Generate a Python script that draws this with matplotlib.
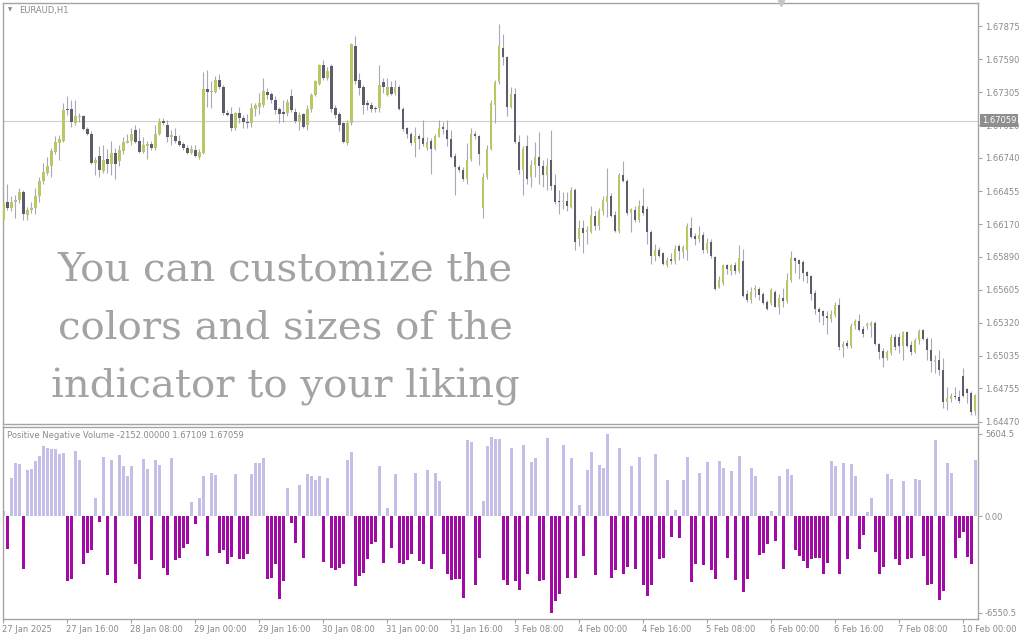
import matplotlib
matplotlib.use("Agg")
import matplotlib.pyplot as plt
import matplotlib.transforms as mtransforms
import numpy as np

W, H = 1024, 640

# ----------------------------------------------------------------------
# EURAUD H1 candles (27 Jan 2025 00:00 ... 10 Feb 2025 03:00)
# ----------------------------------------------------------------------
OPEN = [
    1.6621, 1.6636, 1.6631, 1.6636, 1.6638, 1.6645, 1.6625, 1.6629, 1.6631, 1.6641,
    1.6654, 1.6661, 1.6667, 1.6679, 1.6687, 1.6689, 1.6716, 1.6716, 1.6704, 1.6709,
    1.6710, 1.6699, 1.6695, 1.6670, 1.6676, 1.6663, 1.6673, 1.6669, 1.6678, 1.6671,
    1.6680, 1.6687, 1.6689, 1.6698, 1.6689, 1.6679, 1.6684, 1.6686, 1.6683, 1.6695,
    1.6706, 1.6702, 1.6692, 1.6693, 1.6689, 1.6686, 1.6683, 1.6678, 1.6681, 1.6675,
    1.6678, 1.6733, 1.6731, 1.6731, 1.6741, 1.6735, 1.6713, 1.6712, 1.6700, 1.6713,
    1.6708, 1.6705, 1.6704, 1.6716, 1.6718, 1.6720, 1.6731, 1.6729, 1.6724, 1.6716,
    1.6714, 1.6713, 1.6727, 1.6714, 1.6706, 1.6712, 1.6702, 1.6716, 1.6728, 1.6738,
    1.6754, 1.6743, 1.6753, 1.6717, 1.6712, 1.6704, 1.6687, 1.6704, 1.6770, 1.6741,
    1.6735, 1.6721, 1.6720, 1.6717, 1.6717, 1.6739, 1.6728, 1.6735, 1.6730, 1.6735,
    1.6716, 1.6700, 1.6695, 1.6687, 1.6693, 1.6691, 1.6683, 1.6689, 1.6682, 1.6692,
    1.6701, 1.6698, 1.6690, 1.6676, 1.6666, 1.6664, 1.6656, 1.6673, 1.6695, 1.6693,
    1.6631, 1.6658, 1.6682, 1.6720, 1.6739, 1.6769, 1.6761, 1.6718, 1.6729, 1.6688,
    1.6664, 1.6684, 1.6658, 1.6668, 1.6675, 1.6667, 1.6659, 1.6672, 1.6651, 1.6637,
    1.6636, 1.6637, 1.6632, 1.6646, 1.6604, 1.6614, 1.6610, 1.6610, 1.6624, 1.6615,
    1.6628, 1.6636, 1.6641, 1.6625, 1.6611, 1.6659, 1.6654, 1.6627, 1.6629, 1.6621,
    1.6633, 1.6630, 1.6610, 1.6590, 1.6595, 1.6592, 1.6582, 1.6587, 1.6585, 1.6598,
    1.6593, 1.6595, 1.6614, 1.6607, 1.6604, 1.6608, 1.6595, 1.6602, 1.6589, 1.6563,
    1.6566, 1.6582, 1.6577, 1.6582, 1.6577, 1.6585, 1.6557, 1.6552, 1.6560, 1.6561,
    1.6557, 1.6550, 1.6549, 1.6559, 1.6546, 1.6553, 1.6551, 1.6569, 1.6588, 1.6586,
    1.6584, 1.6576, 1.6572, 1.6558, 1.6544, 1.6542, 1.6538, 1.6535, 1.6539, 1.6547,
    1.6511, 1.6515, 1.6512, 1.6529, 1.6534, 1.6527, 1.6529, 1.6529, 1.6532, 1.6514,
    1.6508, 1.6502, 1.6506, 1.6520, 1.6520, 1.6512, 1.6524, 1.6513, 1.6507, 1.6517,
    1.6526, 1.6518, 1.6509, 1.6498, 1.6500, 1.6491, 1.6464, 1.6466, 1.6469, 1.6468,
    1.6486, 1.6475, 1.6472, 1.6456,
]
HIGH = [
    1.6644, 1.6652, 1.6641, 1.6642, 1.6648, 1.6646, 1.6632, 1.6636, 1.6648, 1.6658,
    1.6670, 1.6675, 1.6683, 1.6693, 1.6694, 1.6721, 1.6727, 1.6724, 1.6724, 1.6713,
    1.6711, 1.6701, 1.6697, 1.6675, 1.6684, 1.6685, 1.6682, 1.6689, 1.6683, 1.6685,
    1.6692, 1.6695, 1.6700, 1.6702, 1.6700, 1.6692, 1.6689, 1.6689, 1.6702, 1.6708,
    1.6708, 1.6707, 1.6698, 1.6700, 1.6694, 1.6688, 1.6685, 1.6685, 1.6685, 1.6682,
    1.6748, 1.6750, 1.6740, 1.6745, 1.6746, 1.6737, 1.6715, 1.6718, 1.6714, 1.6718,
    1.6711, 1.6712, 1.6721, 1.6721, 1.6730, 1.6743, 1.6734, 1.6731, 1.6727, 1.6718,
    1.6724, 1.6725, 1.6733, 1.6717, 1.6714, 1.6713, 1.6720, 1.6730, 1.6741, 1.6755,
    1.6758, 1.6752, 1.6755, 1.6720, 1.6714, 1.6705, 1.6707, 1.6773, 1.6779, 1.6747,
    1.6737, 1.6724, 1.6722, 1.6719, 1.6754, 1.6743, 1.6743, 1.6740, 1.6741, 1.6737,
    1.6718, 1.6701, 1.6696, 1.6701, 1.6695, 1.6707, 1.6692, 1.6691, 1.6695, 1.6707,
    1.6705, 1.6707, 1.6698, 1.6678, 1.6668, 1.6666, 1.6687, 1.6700, 1.6697, 1.6694,
    1.6661, 1.6685, 1.6724, 1.6741, 1.6789, 1.6781, 1.6762, 1.6735, 1.6734, 1.6694,
    1.6684, 1.6694, 1.6672, 1.6688, 1.6696, 1.6672, 1.6674, 1.6698, 1.6660, 1.6646,
    1.6645, 1.6645, 1.6649, 1.6648, 1.6621, 1.6621, 1.6615, 1.6633, 1.6628, 1.6631,
    1.6641, 1.6665, 1.6644, 1.6628, 1.6661, 1.6671, 1.6656, 1.6631, 1.6633, 1.6638,
    1.6648, 1.6633, 1.6612, 1.6600, 1.6597, 1.6593, 1.6589, 1.6592, 1.6599, 1.6600,
    1.6599, 1.6618, 1.6623, 1.6609, 1.6615, 1.6610, 1.6605, 1.6604, 1.6590, 1.6572,
    1.6583, 1.6583, 1.6583, 1.6584, 1.6599, 1.6596, 1.6560, 1.6563, 1.6565, 1.6563,
    1.6559, 1.6552, 1.6562, 1.6560, 1.6557, 1.6562, 1.6575, 1.6594, 1.6589, 1.6587,
    1.6586, 1.6577, 1.6573, 1.6560, 1.6546, 1.6543, 1.6542, 1.6543, 1.6550, 1.6553,
    1.6516, 1.6517, 1.6532, 1.6535, 1.6540, 1.6529, 1.6533, 1.6534, 1.6534, 1.6515,
    1.6510, 1.6509, 1.6522, 1.6522, 1.6523, 1.6525, 1.6525, 1.6516, 1.6519, 1.6527,
    1.6527, 1.6520, 1.6519, 1.6504, 1.6509, 1.6502, 1.6477, 1.6472, 1.6477, 1.6474,
    1.6493, 1.6476, 1.6473, 1.6471,
]
LOW = [
    1.6616, 1.6629, 1.6628, 1.6622, 1.6635, 1.6621, 1.6621, 1.6627, 1.6626, 1.6636,
    1.6652, 1.6659, 1.6658, 1.6677, 1.6672, 1.6688, 1.6711, 1.6701, 1.6702, 1.6705,
    1.6698, 1.6694, 1.6669, 1.6659, 1.6658, 1.6661, 1.6661, 1.6659, 1.6656, 1.6667,
    1.6677, 1.6687, 1.6685, 1.6687, 1.6678, 1.6678, 1.6673, 1.6681, 1.6681, 1.6694,
    1.6702, 1.6688, 1.6685, 1.6687, 1.6684, 1.6681, 1.6677, 1.6677, 1.6675, 1.6673,
    1.6677, 1.6718, 1.6717, 1.6730, 1.6733, 1.6711, 1.6710, 1.6697, 1.6698, 1.6704,
    1.6700, 1.6700, 1.6701, 1.6710, 1.6712, 1.6718, 1.6725, 1.6721, 1.6712, 1.6704,
    1.6705, 1.6710, 1.6714, 1.6704, 1.6698, 1.6700, 1.6698, 1.6714, 1.6727, 1.6737,
    1.6741, 1.6741, 1.6714, 1.6708, 1.6697, 1.6687, 1.6685, 1.6702, 1.6738, 1.6728,
    1.6712, 1.6715, 1.6714, 1.6714, 1.6714, 1.6730, 1.6727, 1.6728, 1.6728, 1.6715,
    1.6697, 1.6691, 1.6685, 1.6675, 1.6682, 1.6684, 1.6681, 1.6660, 1.6681, 1.6692,
    1.6695, 1.6684, 1.6674, 1.6642, 1.6662, 1.6654, 1.6652, 1.6671, 1.6690, 1.6668,
    1.6622, 1.6656, 1.6681, 1.6704, 1.6738, 1.6754, 1.6710, 1.6717, 1.6687, 1.6660,
    1.6642, 1.6652, 1.6649, 1.6658, 1.6652, 1.6649, 1.6646, 1.6646, 1.6634, 1.6626,
    1.6630, 1.6628, 1.6631, 1.6595, 1.6598, 1.6592, 1.6600, 1.6609, 1.6612, 1.6612,
    1.6625, 1.6623, 1.6623, 1.6610, 1.6609, 1.6653, 1.6625, 1.6610, 1.6619, 1.6619,
    1.6625, 1.6600, 1.6583, 1.6585, 1.6589, 1.6582, 1.6580, 1.6583, 1.6583, 1.6586,
    1.6588, 1.6586, 1.6605, 1.6599, 1.6602, 1.6592, 1.6592, 1.6588, 1.6560, 1.6562,
    1.6565, 1.6574, 1.6573, 1.6574, 1.6575, 1.6554, 1.6550, 1.6549, 1.6554, 1.6552,
    1.6548, 1.6543, 1.6547, 1.6546, 1.6540, 1.6546, 1.6549, 1.6567, 1.6575, 1.6570,
    1.6568, 1.6566, 1.6552, 1.6540, 1.6533, 1.6530, 1.6522, 1.6533, 1.6537, 1.6509,
    1.6503, 1.6510, 1.6510, 1.6527, 1.6525, 1.6520, 1.6527, 1.6520, 1.6513, 1.6501,
    1.6494, 1.6500, 1.6504, 1.6509, 1.6506, 1.6500, 1.6511, 1.6504, 1.6506, 1.6514,
    1.6517, 1.6500, 1.6490, 1.6489, 1.6487, 1.6459, 1.6457, 1.6464, 1.6466, 1.6463,
    1.6468, 1.6463, 1.6453, 1.6453,
]
CLOSE = [
    1.6635, 1.6631, 1.6636, 1.6638, 1.6645, 1.6626, 1.6629, 1.6631, 1.6641, 1.6654,
    1.6662, 1.6667, 1.6680, 1.6688, 1.6690, 1.6715, 1.6715, 1.6705, 1.6710, 1.6710,
    1.6699, 1.6695, 1.6670, 1.6672, 1.6664, 1.6672, 1.6669, 1.6678, 1.6669, 1.6681,
    1.6688, 1.6689, 1.6695, 1.6688, 1.6679, 1.6685, 1.6686, 1.6683, 1.6695, 1.6706,
    1.6704, 1.6692, 1.6694, 1.6689, 1.6685, 1.6683, 1.6678, 1.6682, 1.6676, 1.6679,
    1.6733, 1.6731, 1.6732, 1.6741, 1.6735, 1.6713, 1.6711, 1.6700, 1.6713, 1.6708,
    1.6705, 1.6704, 1.6717, 1.6720, 1.6721, 1.6732, 1.6728, 1.6724, 1.6715, 1.6712,
    1.6712, 1.6722, 1.6715, 1.6706, 1.6711, 1.6701, 1.6716, 1.6728, 1.6740, 1.6754,
    1.6743, 1.6749, 1.6716, 1.6711, 1.6702, 1.6688, 1.6704, 1.6772, 1.6740, 1.6734,
    1.6720, 1.6720, 1.6716, 1.6716, 1.6737, 1.6735, 1.6735, 1.6729, 1.6735, 1.6716,
    1.6699, 1.6695, 1.6687, 1.6693, 1.6690, 1.6686, 1.6688, 1.6682, 1.6693, 1.6700,
    1.6699, 1.6690, 1.6675, 1.6666, 1.6664, 1.6656, 1.6672, 1.6695, 1.6693, 1.6677,
    1.6658, 1.6682, 1.6721, 1.6739, 1.6770, 1.6761, 1.6718, 1.6729, 1.6688, 1.6664,
    1.6682, 1.6656, 1.6668, 1.6675, 1.6667, 1.6659, 1.6667, 1.6650, 1.6636, 1.6636,
    1.6637, 1.6633, 1.6646, 1.6602, 1.6614, 1.6609, 1.6612, 1.6625, 1.6615, 1.6628,
    1.6638, 1.6641, 1.6624, 1.6611, 1.6659, 1.6654, 1.6627, 1.6630, 1.6621, 1.6633,
    1.6627, 1.6610, 1.6590, 1.6595, 1.6590, 1.6583, 1.6586, 1.6585, 1.6596, 1.6594,
    1.6597, 1.6615, 1.6606, 1.6604, 1.6608, 1.6595, 1.6601, 1.6590, 1.6561, 1.6569,
    1.6582, 1.6578, 1.6582, 1.6577, 1.6588, 1.6555, 1.6552, 1.6559, 1.6562, 1.6556,
    1.6549, 1.6544, 1.6560, 1.6546, 1.6553, 1.6551, 1.6569, 1.6588, 1.6585, 1.6583,
    1.6575, 1.6572, 1.6557, 1.6544, 1.6541, 1.6538, 1.6536, 1.6540, 1.6547, 1.6511,
    1.6514, 1.6512, 1.6529, 1.6534, 1.6526, 1.6522, 1.6531, 1.6532, 1.6514, 1.6507,
    1.6502, 1.6507, 1.6520, 1.6511, 1.6512, 1.6524, 1.6512, 1.6507, 1.6517, 1.6525,
    1.6518, 1.6509, 1.6499, 1.6500, 1.6491, 1.6464, 1.6467, 1.6469, 1.6468, 1.6465,
    1.6469, 1.6472, 1.6455, 1.6470,
]

# Positive Negative Volume histogram
VOLUME = [
    343, -2241, 2630, 3590, 3522, -3613, 3179, 3248, 3751, 4094,
    4780, 4620, 4551, 4551, 4231, 4300, -4368, -4231, 4414, 3819,
    -3270, -2516, -2310, 1258, -412, 4002, -4025, 3819, -4528, 4162,
    3408, 2722, 3408, -3270, -4231, 3865, 3248, -2996, 3819, 3476,
    -3499, -4025, 3934, -2996, -2859, -2127, -1898, 961, -526, 1235,
    2722, -2699, 2973, 2790, -2470, -2310, -3225, -2744, 2904, -2927,
    -2882, -2584, 2904, 3590, 3590, 3934, -4231, -4185, -3225, -5603,
    -4368, 1944, -480, -1784, 2104, -2813, 2904, 2722, 2447, 2722,
    -3087, 2630, -3499, -3682, -3499, -3225, 3819, 4345, -4757, -4071,
    -3842, -2927, -1898, -1715, 3408, -3156, 572, -2127, 2859, -3156,
    -3225, -2996, -2584, 2950, -3042, -3225, 3133, -3613, 2973, 2378,
    -2584, -3957, -4300, -4231, -4231, -5557, 5191, 5077, -4643, -2859,
    1029, 4780, 5420, 5260, 5260, -4300, -4643, 4620, -4368, -4986,
    4848, -3911, 3659, 3934, -4368, -4300, 5306, -6550.5, -5740, -5283,
    4848, -4185, 3934, -4185, 800, -2699, 3133, 4345, -4025, 3476,
    3316, 5604.5, -4185, -3682, 4620, -3957, -3431, 3431, -3613, 4002,
    -4643, -5443, -4643, 4208, -2927, -2859, 2493, -1441, 435, -1487,
    2493, 4002, -4460, -3270, 2973, -3339, 3659, -3682, -4231, 3751,
    3293, -2813, 3065, -4300, 4094, -5146, -4231, 3316, 2722, -2653,
    -2516, -1898, 343, -1670, 2722, -3613, 3248, 2790, -2310, -2699,
    -3042, -3545, -2927, -2813, -2813, -3911, -3200, 3773, 3408, -3957,
    3636, -2927, 3522, 2722, -2241, -1281, 300, 1258, -2401, -3911,
    -3431, 2859, 2516, -2900, -3339, 2378, -2927, -2813, 2561, 2447,
    -2699, -4643, -4597, 5191, -5672, -5100, 3636, 2973, -2859, -1487,
    -1052, -2744, -3225, 3819,
]

PRICE_TICKS = [1.67875, 1.67590, 1.67305, 1.67020, 1.66740, 1.66455, 1.66170,
               1.65890, 1.65605, 1.65320, 1.65035, 1.64755, 1.64470]
VOL_TICKS = [5604.5, 0.0, -6550.5]
VOL_TICK_LABELS = ["5604.5", "0.00", "-6550.5"]
DATE_LABELS = ["27 Jan 2025", "27 Jan 16:00", "28 Jan 08:00", "29 Jan 00:00",
               "29 Jan 16:00", "30 Jan 08:00", "31 Jan 00:00", "31 Jan 16:00",
               "3 Feb 08:00", "4 Feb 00:00", "4 Feb 16:00", "5 Feb 08:00",
               "6 Feb 00:00", "6 Feb 16:00", "7 Feb 08:00", "10 Feb 00:00"]
DATE_STEP = 16          # one label every 16 hourly bars
LAST_PRICE = 1.67059

BULL, BEAR, WICK = "#b7c865", "#5f5c6a", "#aaa8b8"
VPOS, VNEG = "#c4bee9", "#a20aa5"
FRAME, TXT = "#a4a4a4", "#8a8a8a"


def fx(px):
    return px / W


def fy(py):
    return 1.0 - py / H


o, h, l, c = map(np.asarray, (OPEN, HIGH, LOW, CLOSE))
idx = np.arange(len(c))
vol = np.asarray(VOLUME, dtype=float)

fig = plt.figure(figsize=(W / 100, H / 100), dpi=100)
fig.patch.set_facecolor("white")

ax = fig.add_axes([fx(2.5), fy(424), fx(978) - fx(2.5), fy(2.7) - fy(424)])
axv = fig.add_axes([fx(2.5), fy(619), fx(978) - fx(2.5), fy(426.5) - fy(619)])

for a in (ax, axv):
    for s in a.spines.values():
        s.set_color(FRAME)
        s.set_linewidth(1.0)
    a.set_xlim(-0.2, 243.7)
    a.yaxis.tick_right()
    a.tick_params(axis="y", direction="out", length=3, width=0.8, color=FRAME,
                  labelsize=6, labelcolor=TXT, pad=2)

# --- price panel ---
ax.set_ylim(1.64449, 1.68077)
ax.axhline(LAST_PRICE, color="#cfcfcf", lw=0.8, zorder=1)
ax.vlines(idx, l, h, color=WICK, lw=0.8, zorder=2)
up = c >= o
body_lo = np.minimum(o, c)
body_h = np.maximum(np.abs(c - o), 0.00004)
ax.bar(idx[up], body_h[up], bottom=body_lo[up], width=0.62, color=BULL, zorder=3)
ax.bar(idx[~up], body_h[~up], bottom=body_lo[~up], width=0.62, color=BEAR, zorder=3)
ax.set_xticks([])
ax.set_yticks(PRICE_TICKS)
ax.set_yticklabels([f"{t:.5f}" for t in PRICE_TICKS])

trans = mtransforms.blended_transform_factory(ax.transAxes, ax.transData)
ax.text(1.004, LAST_PRICE, f"{LAST_PRICE:.5f}", transform=trans, fontsize=6,
        color="white", va="center", ha="left", zorder=5,
        bbox=dict(boxstyle="square,pad=0.25", fc="#8e8e8e", ec="none"))
ax.plot([0.798], [1.0], marker="v", ms=5, color="#c4c4c4", transform=ax.transAxes,
        clip_on=False, zorder=5)

fig.text(fx(19), fy(10), "EURAUD,H1", fontsize=6, color=TXT, va="center", ha="left")
fig.text(fx(10), fy(10), "\u25bc", fontsize=4, color="#8a8a8a", va="center", ha="center")

overlay = ["You can customize the", "colors and sizes of the", "indicator to your liking"]
for k, line in enumerate(overlay):
    fig.text(fx(285), fy(282 + 57.5 * k), line, fontsize=29, family="DejaVu Serif",
             color="#a3a3a3", ha="center", va="baseline")

# --- volume panel ---
axv.set_ylim(-6984, 6106)
colors = np.where(vol >= 0, VPOS, VNEG)
axv.bar(idx, vol, width=0.72, color=colors, zorder=2)
axv.set_yticks(VOL_TICKS)
axv.set_yticklabels(VOL_TICK_LABELS)
tick_pos = np.arange(len(DATE_LABELS)) * DATE_STEP
axv.set_xticks(tick_pos)
axv.set_xticklabels(DATE_LABELS, ha="left")
axv.tick_params(axis="x", direction="out", length=3, width=0.8, color=FRAME,
                labelsize=6, labelcolor=TXT, pad=1.5)
offset = mtransforms.ScaledTranslation(-1 / 100, 0, fig.dpi_scale_trans)
for lbl in axv.get_xticklabels():
    lbl.set_transform(lbl.get_transform() + offset)

fig.text(fx(7), fy(435), "Positive Negative Volume -2152.00000 1.67109 1.67059",
         fontsize=6, color=TXT, va="center", ha="left")

fig.savefig("out.png", dpi=100, facecolor="white")
